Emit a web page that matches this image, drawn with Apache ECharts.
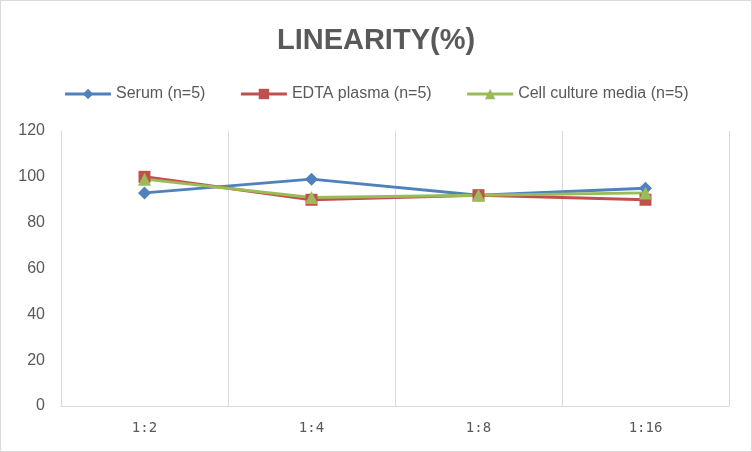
<!DOCTYPE html>
<html>
<head>
<meta charset="utf-8">
<script src="https://cdn.jsdelivr.net/npm/echarts@6/dist/echarts.min.js"></script>
<style>
  html, body { margin: 0; padding: 0; background: #fff; }
  #chart { width: 750px; height: 450px; border: 1px solid #d9d9d9; }
</style>
</head>
<body>
<div id="chart"></div>
<script>
(function() {
  var categories = ['1:2', '1:4', '1:8', '1:16'];
  var serum = [93, 99, 92, 95];
  var edta = [100, 90, 92, 90];
  var cellMedia = [99, 91, 92, 93];
  var yTicks = { min: 0, max: 120, interval: 20 };

  var ink = '#595959';
  var rule = '#d9d9d9';

  var chart = echarts.init(document.getElementById('chart'), null, { renderer: 'canvas' });

  function line(name, data, color, symbol, size) {
    return {
      name: name,
      type: 'line',
      data: data,
      symbol: symbol,
      symbolSize: size,
      showSymbol: true,
      lineStyle: { color: color, width: 3 },
      itemStyle: { color: color },
      z: 3
    };
  }

  chart.setOption({
    animation: false,
    title: {
      text: 'LINEARITY(%)',
      left: 'center',
      top: 20,
      textStyle: {
        color: ink,
        fontFamily: 'Liberation Sans',
        fontWeight: 'bold',
        fontSize: 29
      }
    },
    legend: {
      top: 80,
      left: 'center',
      itemWidth: 46,
      itemHeight: 13,
      itemGap: 34,
      lineStyle: { width: 3 },
      textStyle: { color: ink, fontSize: 16, fontFamily: 'Liberation Sans' },
      data: ['Serum (n=5)', 'EDTA plasma (n=5)', 'Cell culture media (n=5)']
    },
    grid: { left: 60, right: 22, top: 130, bottom: 45 },
    xAxis: {
      type: 'category',
      data: categories,
      boundaryGap: true,
      axisLine: { lineStyle: { color: rule } },
      axisTick: { show: false },
      splitLine: { show: true, lineStyle: { color: rule } },
      axisLabel: { color: ink, fontSize: 14, margin: 15, fontFamily: 'DejaVu Sans Mono' }
    },
    yAxis: {
      type: 'value',
      min: yTicks.min,
      max: yTicks.max,
      interval: yTicks.interval,
      axisLine: { show: true, lineStyle: { color: rule } },
      axisTick: { show: false },
      splitLine: { show: false },
      axisLabel: { color: ink, fontSize: 16, margin: 16, fontFamily: 'Liberation Sans' }
    },
    series: [
      line('Serum (n=5)', serum, '#4f81bd', 'diamond', 13),
      line('EDTA plasma (n=5)', edta, '#c0504d', 'rect', 12),
      line('Cell culture media (n=5)', cellMedia, '#9bbb59', 'triangle', 13)
    ]
  });
  window.addEventListener('resize', function() { chart.resize(); });
})();
</script>
</body>
</html>
